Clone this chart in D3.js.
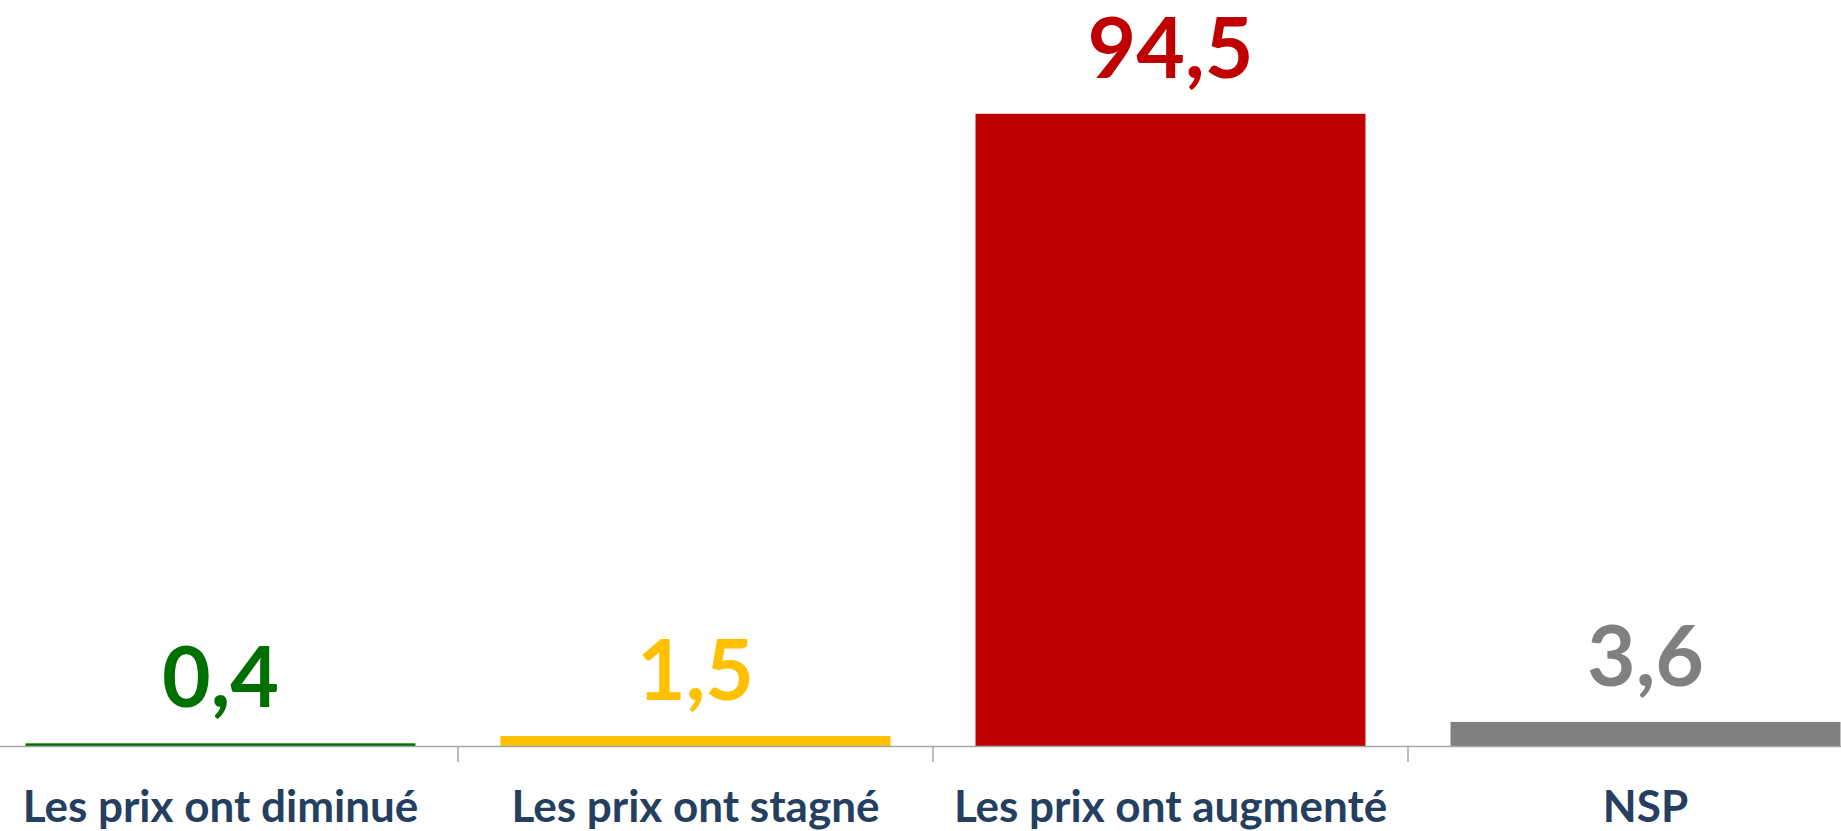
<!DOCTYPE html>
<html><head><meta charset="utf-8">
<script src="https://cdn.jsdelivr.net/npm/d3@7"></script>
<style>html,body{margin:0;padding:0;background:#fff;overflow:hidden}</style>
</head><body>
<svg id="c" width="1841" height="831"></svg>
<script>
const categories = ["Les prix ont diminué", "Les prix ont stagné", "Les prix ont augmenté", "NSP"];
const values = [0.4, 1.5, 94.5, 3.6];
const valueLabels = ["0,4", "1,5", "94,5", "3,6"];
const colors = ["#007000", "#FFC000", "#C00000", "#808080"];

const svg = d3.select("#c");
const W = 1841, H = 831;
const baseY = 746;
const x = d3.scaleBand().domain(categories).range([-17, 1883]).paddingInner(0.179).paddingOuter(0.0895);
const y = d3.scaleLinear().domain([0, 100]).range([baseY, 77]);

svg.selectAll("rect.bar").data(values).join("rect")
  .attr("class", "bar")
  .attr("x", (d, i) => x(categories[i]))
  .attr("width", x.bandwidth())
  .attr("y", d => y(d))
  .attr("height", d => y(0) - y(d))
  .attr("fill", (d, i) => colors[i]);

// axis line
svg.append("line").attr("x1", 0).attr("x2", W).attr("y1", baseY + 0.5).attr("y2", baseY + 0.5)
  .attr("stroke", "#a6a6a6").attr("stroke-width", 1.5);
// ticks at band boundaries
const bounds = categories.map(c => x(c) - x.step() * x.paddingInner() / 2).concat([x(categories[3]) + x.bandwidth() + x.step() * x.paddingInner() / 2]);
svg.selectAll("line.tick").data(bounds).join("line").attr("class", "tick")
  .attr("x1", d => d).attr("x2", d => d).attr("y1", baseY).attr("y2", baseY + 16)
  .attr("stroke", "#a6a6a6").attr("stroke-width", 1.5);

// value labels
svg.selectAll("text.val").data(values).join("text").attr("class", "val")
  .attr("x", (d, i) => x(categories[i]) + x.bandwidth() / 2)
  .attr("y", d => y(d) - 36)
  .attr("text-anchor", "middle")
  .attr("font-family", "Lato, sans-serif").attr("font-weight", 700).attr("font-size", 84)
  .attr("fill", (d, i) => colors[i])
  .text((d, i) => valueLabels[i]);

// category labels
svg.selectAll("text.cat").data(categories).join("text").attr("class", "cat")
  .attr("x", d => x(d) + x.bandwidth() / 2)
  .attr("y", 822)
  .attr("text-anchor", "middle")
  .attr("font-family", "Lato, sans-serif").attr("font-weight", 700).attr("font-size", 44)
  .attr("fill", "#243F60")
  .text(d => d);
</script>
</body></html>
